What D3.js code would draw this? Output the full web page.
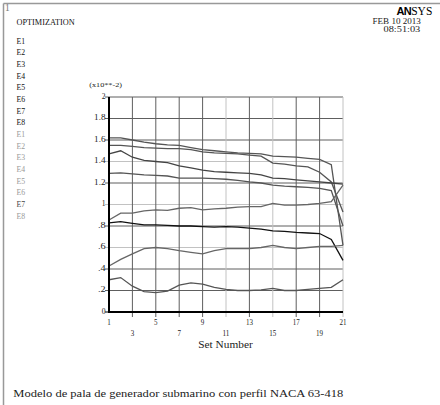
<!DOCTYPE html>
<html>
<head>
<meta charset="utf-8">
<script src="https://cdn.jsdelivr.net/npm/d3@7"></script>
<style>
  body { margin: 0; background: #fff; }
  text { font-family: "Liberation Serif", "DejaVu Serif", serif; }
</style>
</head>
<body>
<div id="chart"></div>
<script>
// data
var sets = [1,2,3,4,5,6,7,8,9,10,11,12,13,14,15,16,17,18,19,20,21];
var s1 = [1.62,1.62,1.60,1.58,1.565,1.555,1.55,1.53,1.51,1.50,1.49,1.48,1.475,1.47,1.45,1.445,1.44,1.43,1.42,1.37,0.62];
var s2 = [1.55,1.55,1.54,1.53,1.525,1.52,1.52,1.51,1.49,1.48,1.475,1.47,1.46,1.45,1.385,1.375,1.36,1.35,1.30,1.21,0.93];
var s3 = [1.47,1.50,1.44,1.41,1.40,1.39,1.36,1.34,1.32,1.305,1.30,1.295,1.29,1.275,1.245,1.24,1.23,1.22,1.21,1.20,1.19];
var s4 = [1.29,1.295,1.285,1.275,1.27,1.265,1.245,1.245,1.245,1.24,1.235,1.225,1.21,1.20,1.18,1.17,1.165,1.16,1.15,1.13,0.80];
var s5 = [0.856,0.92,0.92,0.94,0.95,0.945,0.965,0.97,0.95,0.96,0.965,0.975,0.98,0.98,1.01,0.995,0.995,1.0,1.01,1.026,1.18];
var s6 = [0.83,0.84,0.825,0.81,0.81,0.805,0.80,0.80,0.795,0.79,0.795,0.79,0.78,0.77,0.755,0.75,0.74,0.735,0.73,0.675,0.48];
var s7 = [0.428,0.49,0.54,0.59,0.60,0.59,0.57,0.555,0.54,0.57,0.59,0.59,0.59,0.60,0.62,0.60,0.59,0.60,0.61,0.61,0.62];
var s8 = [0.30,0.32,0.24,0.19,0.18,0.195,0.25,0.27,0.26,0.23,0.21,0.20,0.20,0.205,0.22,0.20,0.20,0.21,0.22,0.23,0.30];
var series = [s1, s2, s3, s4, s5, s6, s7, s8];
var legendLabels = ["E1","E2","E3","E4","E5","E6","E7","E8","E1","E2","E3","E4","E5","E6","E7","E8"];
var yTicks = [0,0.2,0.4,0.6,0.8,1,1.2,1.4,1.6,1.8,2];
var yTickLabels = ["0",".2",".4",".6",".8","1","1.2","1.4","1.6","1.8","2"];
var xTicks = [1,3,5,7,9,11,13,15,17,19,21];

var svgWidth = 440;
var svgHeight = 405;

var svg = d3.select("#chart")
  .append("svg")
  .attr("width", svgWidth)
  .attr("height", svgHeight);

var x = d3.scaleLinear().domain([1, 21]).range([109, 343]);
var y = d3.scaleLinear().domain([0, 2]).range([312, 97]);

// fixed-width look: each glyph gets the same advance through textLength
function monoText(sel, str, size, adv) {
  return sel.attr("font-size", size)
    .attr("textLength", str.length * adv)
    .attr("lengthAdjust", "spacingAndGlyphs")
    .text(str);
}

// window frame
svg.append("line").attr("x1", 3.5).attr("x2", 440).attr("y1", 3.5).attr("y2", 3.5)
  .attr("stroke", "#999").attr("stroke-width", 1.5);
svg.append("line").attr("x1", 3.5).attr("x2", 3.5).attr("y1", 3.5).attr("y2", 405)
  .attr("stroke", "#999").attr("stroke-width", 1.5);

svg.append("text").attr("x", 5).attr("y", 11).attr("font-size", 9.5).attr("fill", "#777").text("1");

monoText(svg.append("text").attr("x", 16.5).attr("y", 25).attr("fill", "#111"), "OPTIMIZATION", 9, 4.85);

// legend
svg.selectAll(".leg")
  .data(legendLabels)
  .enter()
  .append("text")
  .attr("class", "leg")
  .attr("x", 16.5)
  .attr("y", (d, i) => 43.5 + i * 11.67)
  .attr("fill", (d, i) => i < 8 ? "#111" : (i == 14 ? "#444" : "#999"))
  .each(function(d) { monoText(d3.select(this), d, 9, 4.3); });

// ANSYS logo and date
var logo = svg.append("text").attr("x", 396.5).attr("y", 15).attr("font-size", 11);
logo.append("tspan").attr("font-family", "Liberation Sans").attr("font-weight", 900)
  .attr("letter-spacing", -0.6).text("AN");
logo.append("tspan").attr("font-family", "Liberation Serif").attr("font-size", 11.5).text("SYS");

monoText(svg.append("text").attr("x", 372.5).attr("y", 23.5).attr("fill", "#222"), "FEB 10 2013", 8.2, 4.4);
monoText(svg.append("text").attr("x", 383.5).attr("y", 32).attr("fill", "#222"), "08:51:03", 8.2, 4.6);

monoText(svg.append("text").attr("x", 89.3).attr("y", 86.5).attr("fill", "#222"), "(x10**-2)", 7, 3.63);

// grid
var lightY = [0.6, 1.0, 1.4];
var lightX = [11, 15, 21];
svg.selectAll(".hgrid")
  .data(yTicks.slice(1))
  .enter()
  .append("line")
  .attr("class", "hgrid")
  .attr("x1", 105).attr("x2", x(21))
  .attr("y1", d => y(d)).attr("y2", d => y(d))
  .attr("stroke", d => lightY.some(v => Math.abs(v - d) < 1e-6) ? "#c2c2c2" : "#5e5e5e")
  .attr("stroke-width", 1);

svg.selectAll(".vgrid")
  .data(xTicks.slice(1))
  .enter()
  .append("line")
  .attr("class", "vgrid")
  .attr("x1", d => x(d)).attr("x2", d => x(d))
  .attr("y1", y(2)).attr("y2", y(0) + 5)
  .attr("stroke", d => lightX.indexOf(d) >= 0 ? "#c2c2c2" : "#5e5e5e")
  .attr("stroke-width", 1);

// curves
var lineGen = d3.line()
  .x((d, i) => x(sets[i]))
  .y(d => y(d));

var colors = ["#555", "#555", "#444", "#555", "#666", "#111", "#666", "#555"];
svg.selectAll(".curve")
  .data(series)
  .enter()
  .append("path")
  .attr("class", "curve")
  .attr("d", d => lineGen(d))
  .attr("fill", "none")
  .attr("stroke", (d, i) => colors[i])
  .attr("stroke-width", 1.3);

// axes
svg.append("line").attr("x1", x(1)).attr("x2", x(1)).attr("y1", y(2)).attr("y2", y(0) + 1)
  .attr("stroke", "#000").attr("stroke-width", 2);
svg.append("line").attr("x1", x(1)).attr("x2", x(21)).attr("y1", y(0)).attr("y2", y(0))
  .attr("stroke", "#000").attr("stroke-width", 2);
svg.append("line").attr("x1", 105).attr("x2", x(1)).attr("y1", y(0)).attr("y2", y(0))
  .attr("stroke", "#000").attr("stroke-width", 1);

svg.selectAll(".ylab")
  .data(yTicks)
  .enter()
  .append("text")
  .attr("class", "ylab")
  .attr("x", 105.5)
  .attr("y", d => y(d) + 1.5)
  .attr("text-anchor", "end")
  .attr("fill", "#222")
  .each(function(d, i) { monoText(d3.select(this), yTickLabels[i], 7.5, 3.8); });

svg.selectAll(".xlab")
  .data(xTicks)
  .enter()
  .append("text")
  .attr("class", "xlab")
  .attr("x", d => x(d))
  .attr("y", (d, i) => i % 2 == 0 ? 324.5 : 335.5)
  .attr("text-anchor", "middle")
  .attr("fill", "#222")
  .each(function(d) { monoText(d3.select(this), String(d), 7.5, 3.5); });

monoText(svg.append("text").attr("x", 198.3).attr("y", 347.5).attr("fill", "#222"), "Set Number", 9.5, 5.44);

monoText(svg.append("text").attr("x", 13.3).attr("y", 397).attr("fill", "#222"),
  "Modelo de pala de generador submarino con perfil NACA 63-418", 9.5, 5.5);
</script>
</body>
</html>
